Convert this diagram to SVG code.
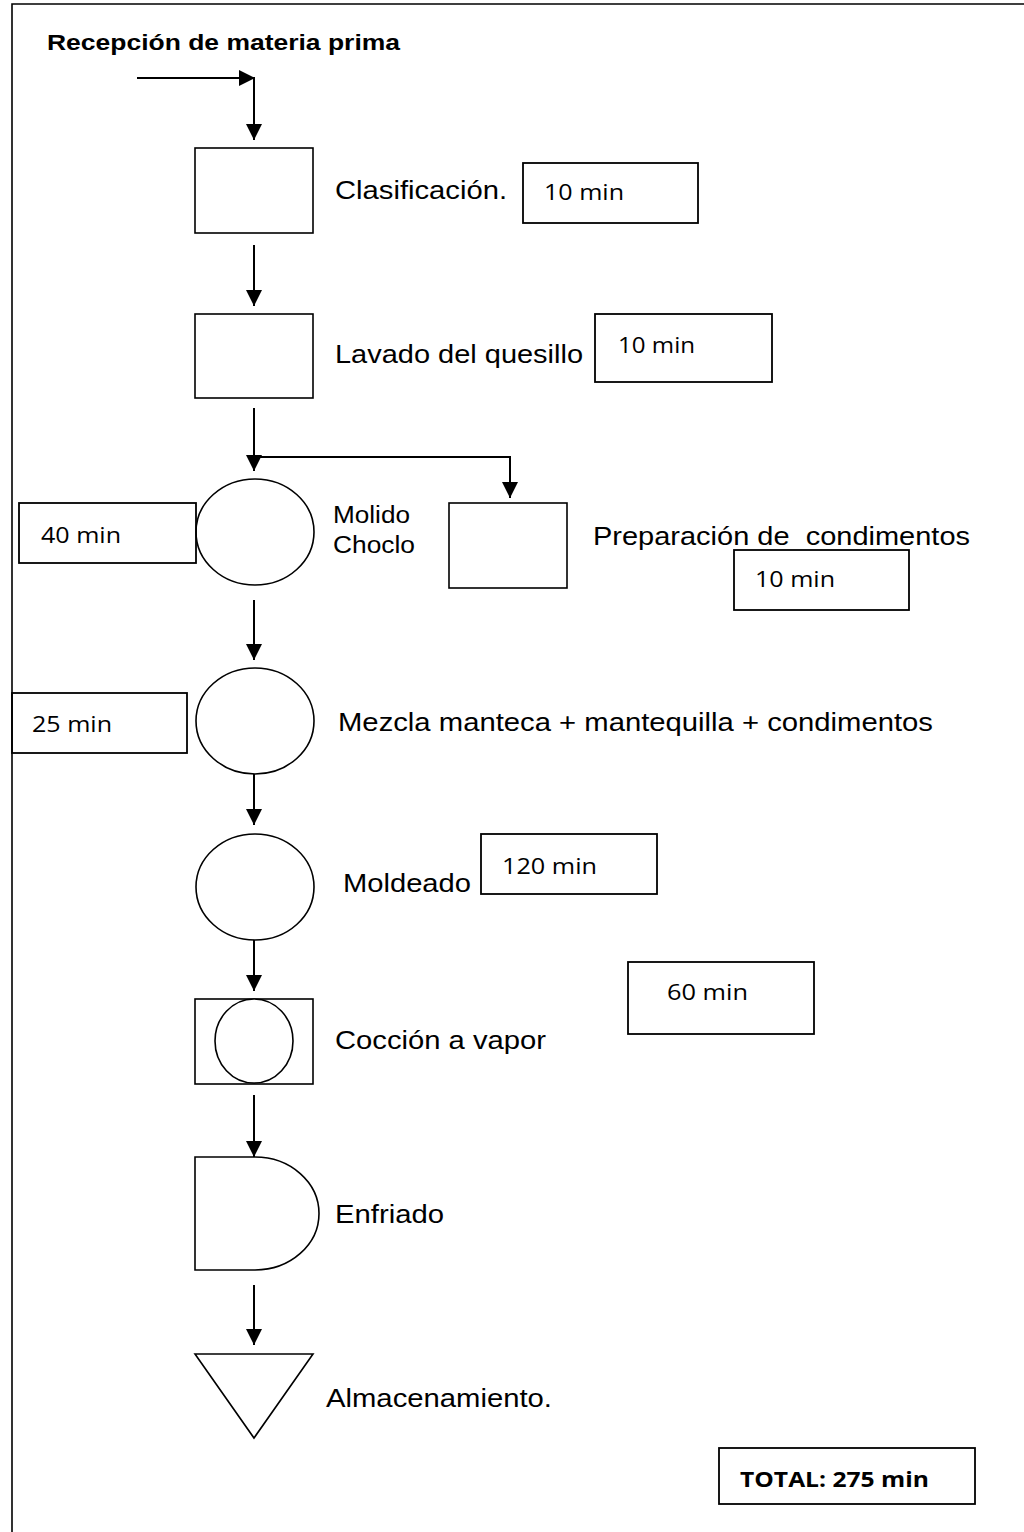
<svg xmlns="http://www.w3.org/2000/svg" width="1024" height="1532" viewBox="0 0 1024 1532">
  <defs>
    <marker id="arrow" markerUnits="userSpaceOnUse" markerWidth="16" markerHeight="16" refX="16" refY="8" orient="auto">
      <path d="M0,0 L16,8 L0,16 z" fill="#000"/>
    </marker>
    <style>
      .shape { fill: #fff; stroke: #000; stroke-width: 1.6; }
      .box { fill: none; stroke: #000; stroke-width: 1.8; }
      .flow-arrow { fill: none; stroke: #000; stroke-width: 2; marker-end: url(#arrow); }
      .lbl { font-family: "Liberation Sans", Arial, sans-serif; font-size: 26px; fill: #000; }
      .small { font-size: 23px; }
      .title { font-family: "Liberation Sans", Arial, sans-serif; font-size: 22px; font-weight: bold; fill: #000; }
      .time { font-family: "Open Sans", Lato, sans-serif; font-size: 22px; fill: #000; }
      .total { font-family: "Open Sans", Lato, sans-serif; font-size: 22px; font-weight: bold; fill: #000; }
    </style>
  </defs>

  <rect width="1024" height="1532" fill="#fff"/>

  <!-- page frame (right and bottom edges fall outside the sheet) -->
  <path d="M12,1540 V4 H1040" fill="none" stroke="#000" stroke-width="1.6"/>

  <!-- connectors -->
  <g id="connectors">
    <line class="flow-arrow" x1="137" y1="78" x2="255" y2="78"/>
    <line class="flow-arrow" x1="254" y1="78" x2="254" y2="140"/>
    <line class="flow-arrow" x1="254" y1="245" x2="254" y2="306"/>
    <line class="flow-arrow" x1="254" y1="408" x2="254" y2="471"/>
    <polyline class="flow-arrow" points="254,457 510,457 510,498"/>
    <line class="flow-arrow" x1="254" y1="600" x2="254" y2="660"/>
    <line class="flow-arrow" x1="254" y1="763" x2="254" y2="825"/>
    <line class="flow-arrow" x1="254" y1="929" x2="254" y2="991"/>
    <line class="flow-arrow" x1="254" y1="1095" x2="254" y2="1157"/>
    <line class="flow-arrow" x1="254" y1="1285" x2="254" y2="1345"/>
  </g>

  <g id="recepcion">
    <text class="title" x="47" y="50" textLength="353" lengthAdjust="spacingAndGlyphs">Recepción de materia prima</text>
  </g>

  <g id="clasificacion">
    <rect class="shape" x="195" y="148" width="118" height="85"/>
    <text class="lbl" x="335" y="199" textLength="172" lengthAdjust="spacingAndGlyphs">Clasificación.</text>
  </g>
  <g id="t-clasificacion">
    <rect class="box" x="523" y="163" width="175" height="60"/>
    <text class="time" x="544" y="200" textLength="80" lengthAdjust="spacingAndGlyphs">10 min</text>
  </g>

  <g id="lavado">
    <rect class="shape" x="195" y="314" width="118" height="84"/>
    <text class="lbl" x="335" y="363" textLength="248" lengthAdjust="spacingAndGlyphs">Lavado del quesillo</text>
  </g>
  <g id="t-lavado">
    <rect class="box" x="595" y="314" width="177" height="68"/>
    <text class="time" x="618" y="353" textLength="77" lengthAdjust="spacingAndGlyphs">10 min</text>
  </g>

  <g id="molido">
    <ellipse class="shape" cx="255" cy="532" rx="59" ry="53"/>
    <text class="lbl small" x="333" y="523" textLength="77" lengthAdjust="spacingAndGlyphs">Molido</text>
    <text class="lbl small" x="333" y="553" textLength="82" lengthAdjust="spacingAndGlyphs">Choclo</text>
  </g>
  <g id="t-molido">
    <rect class="box" x="19" y="503" width="177" height="60"/>
    <text class="time" x="41" y="543" textLength="80" lengthAdjust="spacingAndGlyphs">40 min</text>
  </g>

  <g id="preparacion">
    <rect class="shape" x="449" y="503" width="118" height="85"/>
    <text class="lbl" x="593" y="545" textLength="377" lengthAdjust="spacingAndGlyphs" style="white-space:pre">Preparación de  condimentos</text>
  </g>
  <g id="t-preparacion">
    <rect class="box" x="734" y="550" width="175" height="60"/>
    <text class="time" x="755" y="587" textLength="80" lengthAdjust="spacingAndGlyphs">10 min</text>
  </g>

  <g id="mezcla">
    <ellipse class="shape" cx="255" cy="721" rx="59" ry="53"/>
    <text class="lbl" x="338" y="731" textLength="595" lengthAdjust="spacingAndGlyphs">Mezcla manteca + mantequilla + condimentos</text>
  </g>
  <g id="t-mezcla">
    <rect class="box" x="12" y="693" width="175" height="60"/>
    <text class="time" x="32" y="732" textLength="80" lengthAdjust="spacingAndGlyphs">25 min</text>
  </g>

  <g id="moldeado">
    <ellipse class="shape" cx="255" cy="887" rx="59" ry="53"/>
    <text class="lbl" x="343" y="892" textLength="128" lengthAdjust="spacingAndGlyphs">Moldeado</text>
  </g>
  <g id="t-moldeado">
    <rect class="box" x="481" y="834" width="176" height="60"/>
    <text class="time" x="502" y="874" textLength="95" lengthAdjust="spacingAndGlyphs">120 min</text>
  </g>

  <g id="coccion">
    <rect class="shape" x="195" y="999" width="118" height="85"/>
    <ellipse class="shape" cx="254" cy="1041" rx="39" ry="42"/>
    <text class="lbl" x="335" y="1049" textLength="211" lengthAdjust="spacingAndGlyphs">Cocción a vapor</text>
  </g>
  <g id="t-coccion">
    <rect class="box" x="628" y="962" width="186" height="72"/>
    <text class="time" x="667" y="1000" textLength="81" lengthAdjust="spacingAndGlyphs">60 min</text>
  </g>

  <g id="enfriado">
    <path class="shape" d="M195,1157 H255 A64,56.5 0 0 1 255,1270 H195 Z"/>
    <text class="lbl" x="335" y="1223" textLength="109" lengthAdjust="spacingAndGlyphs">Enfriado</text>
  </g>

  <g id="almacenamiento">
    <polygon class="shape" points="195,1354 313,1354 254,1438"/>
    <text class="lbl" x="326" y="1407" textLength="226" lengthAdjust="spacingAndGlyphs">Almacenamiento.</text>
  </g>

  <g id="total">
    <rect class="box" x="719" y="1448" width="256" height="56"/>
    <text class="total" x="740" y="1487" textLength="189" lengthAdjust="spacingAndGlyphs">TOTAL: 275 min</text>
  </g>
</svg>
